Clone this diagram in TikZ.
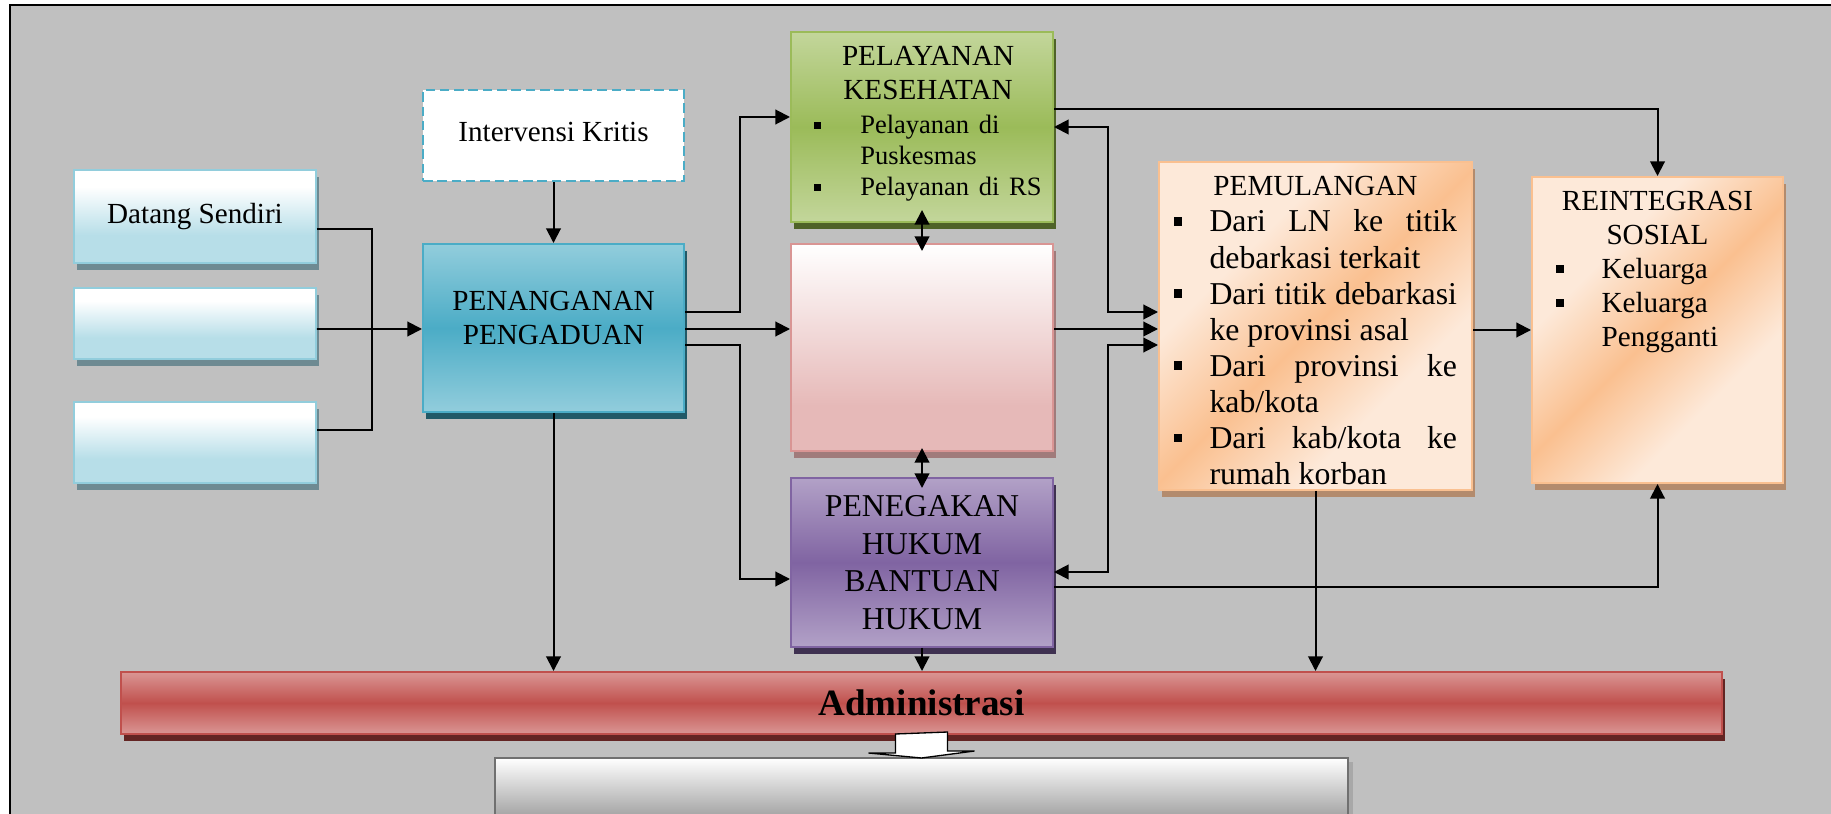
\documentclass[tikz,border=0pt]{standalone}
\usepackage{fontspec}
\setmainfont{Liberation Serif}
\usetikzlibrary{positioning,calc,arrows.meta,shadows}
\setlength{\parskip}{0pt}

\definecolor{bggray}{HTML}{C0C0C0}
\definecolor{lbline}{HTML}{92CDDC}
\definecolor{lbfill}{HTML}{B7DEE8}
\definecolor{lbshadow}{HTML}{6E8A92}
\definecolor{tealline}{HTML}{4BACC6}
\definecolor{teallt}{HTML}{92CDDC}
\definecolor{tealdk}{HTML}{4BACC6}
\definecolor{tealshadow}{HTML}{215967}
\definecolor{grline}{HTML}{9BBB59}
\definecolor{grlt}{HTML}{C3D69B}
\definecolor{grdk}{HTML}{9BBB59}
\definecolor{grshadow}{HTML}{4F6228}
\definecolor{pkline}{HTML}{D99594}
\definecolor{pkfill}{HTML}{E6B9B8}
\definecolor{pkshadow}{HTML}{A07B7B}
\definecolor{puline}{HTML}{8064A2}
\definecolor{pult}{HTML}{B2A1C7}
\definecolor{pudk}{HTML}{8064A2}
\definecolor{pushadow}{HTML}{3F3151}
\definecolor{orline}{HTML}{FAC090}
\definecolor{orlt}{HTML}{FDE9D9}
\definecolor{ordk}{HTML}{FAC090}
\definecolor{orshadow}{HTML}{B38B6D}
\definecolor{rdline}{HTML}{C0504D}
\definecolor{rdlt}{HTML}{DA9694}
\definecolor{rddk}{HTML}{C0504D}
\definecolor{rdshadow}{HTML}{632523}
\definecolor{gyline}{HTML}{707070}
\definecolor{gyfill}{HTML}{8E8E8E}
\definecolor{gyshadow}{HTML}{A8A8A8}

\pgfdeclareverticalshading{srcshade}{100bp}{color(0bp)=(lbfill); color(40bp)=(lbfill); color(66bp)=(white); color(100bp)=(white)}
\pgfdeclareverticalshading{pkshade}{100bp}{color(0bp)=(pkfill); color(36bp)=(pkfill); color(75bp)=(white); color(100bp)=(white)}
\pgfdeclarehorizontalshading{orband}{100bp}{color(0bp)=(orlt); color(34bp)=(orlt); color(50bp)=(ordk); color(66bp)=(orlt); color(100bp)=(orlt)}

\newcommand{\pxu}{0.3774pt}
\newcommand{\sqitem}[2]{\par\noindent\hangindent=#1\hangafter=1\makebox[#1][l]{\rule[.2em]{.26em}{.26em}}#2\par}

\tikzset{
  sz/.style 2 args={minimum width=#1*\pxu, minimum height=#2*\pxu},
  shd/.style={general shadow={fill=#1, shadow xshift=1.3pt, shadow yshift=-2.6pt}},
  wbox/.style={line width=0.75pt, inner sep=0pt, align=center, font=\fontsize{11}{12.8}\selectfont},
  srcbox/.style={wbox, draw=lbline, shade, shading=srcshade, shd=lbshadow},
  critbox/.style={wbox, draw=tealline, fill=white, dash pattern=on 3.6pt off 1.8pt},
  tealbox/.style={wbox, draw=tealline, top color=teallt, bottom color=teallt, middle color=tealdk, shd=tealshadow},
  grbox/.style={wbox, draw=grline, top color=grlt, bottom color=grlt, middle color=grdk, shd=grshadow},
  pkbox/.style={wbox, draw=pkline, shade, shading=pkshade, shd=pkshadow},
  pubox/.style={wbox, draw=puline, top color=pult, bottom color=pult, middle color=pudk, shd=pushadow, font=\fontsize{12}{14.2}\selectfont},
  orbox/.style={wbox, draw=orline, shade, shading=orband, shading angle=-45, shd=orshadow},
  rdbox/.style={wbox, draw=rdline, top color=rdlt, bottom color=rdlt, middle color=rddk, shd=rdshadow, font=\bfseries\fontsize{14}{16}\selectfont},
  gybox/.style={wbox, draw=gyline, top color=white, bottom color=gyfill, general shadow={fill=gyshadow, shadow xshift=1.9pt, shadow yshift=-1.5pt}},
  txt/.style={inner sep=0pt, font=\fontsize{11}{12.8}\selectfont},
  conn/.style={line width=0.75pt},
  arr/.style={conn, -{Triangle[length=5.5pt,width=5.5pt]}},
  darr/.style={conn, {Triangle[length=5.5pt,width=5.5pt]}-{Triangle[length=5.5pt,width=5.5pt]}},
  blockarr/.style={draw, fill=white, line width=0.5pt}
}

\begin{document}
\begin{tikzpicture}[x=\pxu, y=-\pxu]

\useasboundingbox (0,0) rectangle (1831,814);
\clip (0,0) rectangle (1831,814);

% background and frame:
\fill[bggray] (10,5) rectangle (1831,814);
\draw[line width=0.75pt] (10,814) -- (10,5) -- (1831,5);

% entry boxes:
\node[srcbox, sz={242}{93}] (datang) at (195,216.5) {Datang Sendiri};
\node[srcbox, sz={242}{71}] (srcb) at (195,323.5) {};
\node[srcbox, sz={242}{81}] (srcc) at (195,442.5) {};

% complaint handling:
\node[critbox, sz={261}{91}] (interv) at (553.5,135.5) {\raisebox{2.6pt}{Intervensi Kritis}};
\node[tealbox, sz={261}{168}] (penang) at (553.5,328) {};
\node[txt, align=center, below=18pt of penang.north] {PENANGANAN\\PENGADUAN};

% services:
\node[grbox, sz={262}{190}] (kes) at (922,127) {};
\node[txt, text width=86pt, below=5.5pt of kes.north, xshift=2.3pt] {%
  {\centering PELAYANAN\\KESEHATAN\par}
  \vspace{1.4pt}
  \fontsize{10}{11.7}\selectfont\rightskip=0pt plus 1fil
  \sqitem{17.4pt}{Pelayanan di\newline Puskesmas}
  \sqitem{17.4pt}{Pelayanan di RS}};
\node[pkbox, sz={262}{207}] (mid) at (922,347.5) {};
\node[pubox, sz={262}{169}] (hukum) at (922,562.5) {PENEGAKAN\\HUKUM\\BANTUAN\\HUKUM};

% return and reintegration:
\node[orbox, sz={313}{328}] (pulang) at (1315.5,326) {};
\node[txt, below=5.7pt of pulang.north] {\begin{minipage}[t]{106.8pt}
  {\centering PEMULANGAN\par}
  \fontsize{12}{13.6}\selectfont\tolerance=10000
  \sqitem{13.4pt}{Dari LN ke titik\linebreak debarkasi terkait}
  \sqitem{13.4pt}{Dari titik debarkasi\linebreak ke provinsi asal}
  \sqitem{13.4pt}{Dari provinsi ke\linebreak kab/kota}
  \sqitem{13.4pt}{Dari kab/kota ke\linebreak rumah korban}
  \end{minipage}};
\node[orbox, sz={251}{306}] (reint) at (1657.5,330) {};
\node[txt, text width=76.6pt, below=5.7pt of reint.north] {%
  {\centering REINTEGRASI\\SOSIAL\par}
  \rightskip=0pt plus 1fil
  \sqitem{17.2pt}{Keluarga}
  \sqitem{17.2pt}{Keluarga\newline Pengganti}};

% administration:
\node[rdbox, sz={1601}{62}] (admin) at (921.5,703) {Administrasi};
\node[gybox, sz={853}{72}] (hasil) at (921.5,794) {};

% connectors, left part:
\draw[conn] ($(datang.east)+(0,12.5)$) -- ++(55,0) |- ($(srcc.east)+(0,-12.5)$);
\draw[arr] ($(srcb.east)+(0,5.5)$) -- ($(penang.west)+(0,1)$);
\draw[arr] (interv) -- (penang);
\draw[arr] ($(penang.east)+(0,-16)$) -- ++(55,0) |- ($(kes.west)+(0,-10)$);
\draw[arr] ($(penang.east)+(0,1)$) -- ($(mid.west)+(0,-18.5)$);
\draw[arr] ($(penang.east)+(0,17)$) -- ++(55,0) |- ($(hukum.west)+(0,16.5)$);
\draw[arr] (penang) -- (penang.south |- admin.north);

% connectors, middle column:
\draw[darr] ($(kes.south)+(0,-13)$) -- ($(mid.north)+(0,8)$);
\draw[darr] ($(mid.south)+(0,-4)$) -- ($(hukum.north)+(0,11)$);
\draw[arr] (hukum) -- (hukum.south |- admin.north);

% connectors, right part:
\draw[arr] ($(kes.east)+(0,-18)$) -| (reint.north);
\draw[darr] (kes.east) -- ++(54,0) |- ($(pulang.west)+(0,-14)$);
\draw[arr] ($(mid.east)+(0,-18.5)$) -- ($(pulang.west)+(0,3)$);
\draw[darr] ($(hukum.east)+(0,9.5)$) -- ++(54,0) |- ($(pulang.west)+(0,19)$);
\draw[arr] ($(hukum.east)+(0,24.5)$) -| (reint.south);
\draw[arr] (pulang) -- (pulang.south |- admin.north);
\draw[arr] ($(pulang.east)+(0,4)$) -- (reint.west);

% block arrow down:
\draw[blockarr] ($(admin.south)+(-26,-1)$) -- ++(0,19) -- ++(-27,0) -- ($(hasil.north)+(0,1)$)
  -- ++(53,-7) -- ++(-27,0) -- ++(0,-19) -- cycle;

\end{tikzpicture}
\end{document}
